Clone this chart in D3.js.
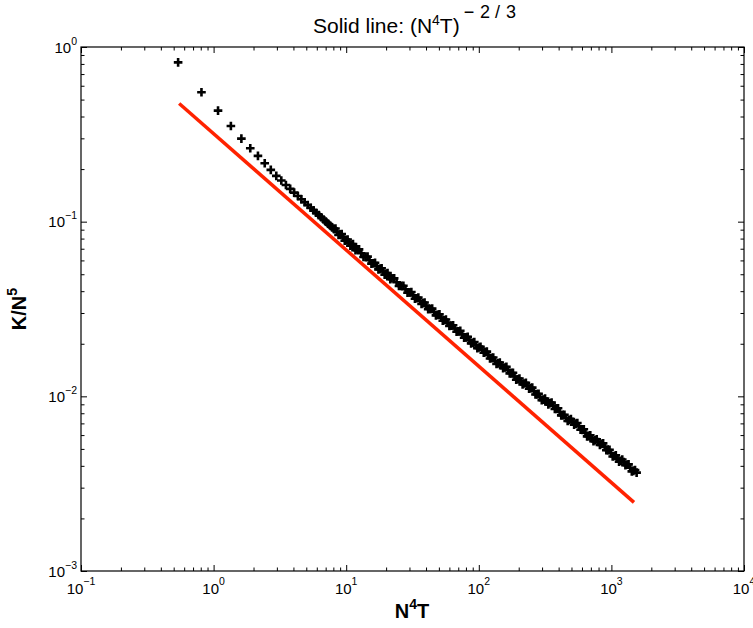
<!DOCTYPE html>
<html>
<head>
<meta charset="utf-8">
<script src="https://cdn.jsdelivr.net/npm/d3@7"></script>
<style>
  html, body { margin: 0; padding: 0; background: #fff; }
  svg { display: block; font-family: "Liberation Sans", Arial, Helvetica, sans-serif; }
</style>
</head>
<body>
<svg id="chart" width="753" height="628"></svg>
<script>
// ---- data (scatter of "+" markers) ----
const dataX = [0.54, 0.81, 1.08, 1.35, 1.62, 1.89, 2.16, 2.43, 2.70, 2.97,
  3.24, 3.51, 3.78, 4.05, 4.32, 4.59, 4.86, 5.13, 5.40, 5.67, 5.94, 6.21, 6.48, 6.75, 7.02, 7.29, 7.56, 7.83, 8.10,
  8.5, 9, 9.5, 10, 10.5, 11, 11.5, 12, 13, 14, 15, 16, 17, 18, 19,
  20, 21, 22, 24, 26, 28, 30, 32, 34, 36, 38, 40, 43, 46, 49, 52, 55, 58, 62, 66, 70, 75, 80, 85, 90, 95,
  100, 106, 112, 118, 125, 132, 140, 148, 157, 166, 176, 186, 197, 208, 220, 233, 246, 260, 275, 290,
  307, 325, 344, 364, 385, 407, 430, 455, 481, 509, 538, 569, 602, 637, 674, 712, 753, 796, 842, 890,
  941, 995, 1050, 1110, 1175, 1240, 1310, 1385, 1465, 1550,
  // scatter spread of the dense band
  8.3, 8.75, 9.25, 9.75, 10.25, 10.75, 11.25, 11.75, 12.5, 13.5, 14.5, 15.5, 16.5, 17.5, 18.5, 19.5,
  20.5, 21.5, 23, 25, 27, 29, 31, 33, 35, 37, 39, 41.5, 44.5, 47.5, 50.5, 53.5, 56.5, 60, 64, 68, 72.5, 77.5, 82.5, 87.5, 92.5, 97.5,
  103, 109, 115, 121.5, 128.5, 136, 144, 152.5, 161.5, 171, 181, 191.5, 202.5, 214, 226.5, 239.5, 253, 267.5, 282.5, 298.5,
  316, 334.5, 354, 374.5, 396, 418.5, 442.5, 468, 495, 523.5, 553.5, 585.5, 619.5, 655.5, 693, 732.5, 774.5, 819, 866, 915.5,
  968, 1022.5, 1080, 1142.5, 1207.5, 1275, 1347.5, 1425, 1507.5];
const dataY = [0.817, 0.551, 0.432, 0.353, 0.299, 0.263, 0.238, 0.216, 0.198, 0.183,
  0.1719, 0.1623, 0.1540, 0.1467, 0.1402, 0.1344, 0.1292, 0.1245, 0.1202, 0.1161, 0.1125, 0.1090, 0.1059, 0.1029, 0.1001, 0.0975, 0.0950, 0.0928, 0.0905,
  0.08767, 0.08427, 0.08127, 0.07844, 0.07592, 0.07362, 0.07148, 0.06948, 0.06596, 0.06286, 0.06018, 0.05780, 0.05568, 0.05368, 0.05187,
  0.05022, 0.04876, 0.04741, 0.04499, 0.04287, 0.04099, 0.03932, 0.03782, 0.03646, 0.03523, 0.03410, 0.03306, 0.03165, 0.03039, 0.02925, 0.02822, 0.02728, 0.02642, 0.02538, 0.02444, 0.02359, 0.02263, 0.02176, 0.02098, 0.02027, 0.01962,
  0.01902, 0.01850, 0.01790, 0.01725, 0.01655, 0.01598, 0.01545, 0.01505, 0.01462, 0.01415, 0.01360, 0.01300, 0.01252, 0.01215, 0.01185, 0.01150, 0.01115, 0.01072, 0.01028, 0.00990,
  0.00958, 0.00933, 0.00912, 0.00885, 0.00852, 0.00815, 0.00780, 0.00752, 0.00732, 0.00716, 0.00698, 0.00674, 0.00646, 0.00618, 0.00592, 0.00574, 0.00560, 0.00548, 0.00534, 0.00515,
  0.00493, 0.00472, 0.00455, 0.00440, 0.00428, 0.00420, 0.00406, 0.00390, 0.00374, 0.00366,
  0.09132, 0.08382, 0.08484, 0.07786, 0.07911, 0.07290, 0.07436, 0.06872, 0.06941, 0.06280, 0.06306, 0.05752, 0.05816, 0.05331, 0.05410, 0.04977,
  0.05073, 0.04689, 0.04736, 0.04283, 0.04298, 0.03916, 0.03953, 0.03621, 0.03675, 0.03380, 0.03442, 0.03155, 0.03180, 0.02907, 0.02946, 0.02706, 0.02752, 0.02525, 0.02553, 0.02342, 0.02369, 0.02164, 0.02190, 0.02011, 0.02045, 0.01884,
  0.01923, 0.01775, 0.01802, 0.01648, 0.01668, 0.01533, 0.01563, 0.01447, 0.01475, 0.01353, 0.01363, 0.01244, 0.01265, 0.01170, 0.01197, 0.01105, 0.01121, 0.01024, 0.01034, 0.00950,
  0.00970, 0.00900, 0.00921, 0.00847, 0.00855, 0.00778, 0.00785, 0.00723, 0.00742, 0.00689, 0.00703, 0.00644, 0.00648, 0.00590, 0.00598, 0.00553, 0.00568, 0.00527, 0.00538, 0.00491,
  0.00495, 0.00452, 0.00459, 0.00423, 0.00435, 0.00403, 0.00408, 0.00372, 0.00379];
const lineX = [0.55, 1480];
const lineY = [0.475, 0.00247];
const xTickValues = [0.1, 1, 10, 100, 1000, 10000];
const xTickExponents = ["\u22121", "0", "1", "2", "3", "4"];
const yTickValues = [0.001, 0.01, 0.1, 1];
const yTickExponents = ["\u22123", "\u22122", "\u22121", "0"];

// ---- layout ----
const svg = d3.select("#chart");
const L = 81, R = 744, T = 47, B = 571;
const x = d3.scaleLog().domain([0.1, 10000]).range([L, R]);
const y = d3.scaleLog().domain([0.001, 1]).range([B, T]);

const xMinor = [], yMinor = [];
for (let e = -1; e < 4; e++) for (let m = 2; m <= 9; m++) xMinor.push(m * Math.pow(10, e));
for (let e = -3; e < 0; e++) for (let m = 2; m <= 9; m++) yMinor.push(m * Math.pow(10, e));

const g = svg.append("g");
const majorLen = 6, minorLen = 3.5;
const fmtNone = () => "";
function addAxis(axisFn, scale, vals, len, transform) {
  const a = axisFn(scale).tickValues(vals).tickSize(len).tickSizeOuter(0).tickFormat(fmtNone);
  const ga = g.append("g").attr("transform", transform).call(a);
  ga.select(".domain").remove();
  ga.selectAll(".tick line").attr("stroke", "#000").attr("stroke-width", 1);
  return ga;
}
addAxis(d3.axisTop, x, xTickValues, majorLen, `translate(0,${B})`);
addAxis(d3.axisTop, x, xMinor, minorLen, `translate(0,${B})`);
addAxis(d3.axisBottom, x, xTickValues, majorLen, `translate(0,${T})`);
addAxis(d3.axisBottom, x, xMinor, minorLen, `translate(0,${T})`);
addAxis(d3.axisRight, y, yTickValues, majorLen, `translate(${L},0)`);
addAxis(d3.axisRight, y, yMinor, minorLen, `translate(${L},0)`);
addAxis(d3.axisLeft, y, yTickValues, majorLen, `translate(${R},0)`);
addAxis(d3.axisLeft, y, yMinor, minorLen, `translate(${R},0)`);

g.append("rect").attr("x", L).attr("y", T).attr("width", R - L).attr("height", B - T)
  .attr("fill", "none").attr("stroke", "#000").attr("stroke-width", 1.2);

xTickValues.forEach((v, i) => {
  const t = svg.append("text").attr("x", x(v)).attr("y", 594)
    .attr("text-anchor", "middle").attr("font-size", 15).attr("fill", "#000");
  t.append("tspan").text("10");
  t.append("tspan").attr("dy", -9).attr("font-size", 10.5).text(xTickExponents[i]);
});
yTickValues.forEach((v, i) => {
  const t = svg.append("text").attr("x", 77).attr("y", y(v) + 5.5)
    .attr("text-anchor", "end").attr("font-size", 15).attr("fill", "#000");
  t.append("tspan").text("10");
  t.append("tspan").attr("dy", -8).attr("font-size", 10.5).text(yTickExponents[i]);
});

// red solid line
const line = d3.line().x(d => x(d[0])).y(d => y(d[1]));
svg.append("path").datum(d3.zip(lineX, lineY)).attr("d", line)
  .attr("fill", "none").attr("stroke", "#ff2200").attr("stroke-width", 3.5);

// plus markers
const plus = "M-4.3,0H4.3M0,-4.3V4.3";
svg.append("g").selectAll("path").data(d3.zip(dataX, dataY)).join("path")
  .attr("transform", d => `translate(${x(d[0])},${y(d[1])})`)
  .attr("d", plus).attr("stroke", "#000").attr("stroke-width", 2.6).attr("fill", "none");

// title
const title = svg.append("text").attr("x", 313).attr("y", 33).attr("text-anchor", "start")
  .attr("font-size", 21).attr("fill", "#000");
title.append("tspan").text("Solid line: (N");
title.append("tspan").attr("dy", -8).attr("font-size", 14).text("4");
title.append("tspan").attr("dy", 8).text("T)");
const sup = svg.append("text").attr("y", 18).attr("font-size", 18).attr("fill", "#000").attr("text-anchor", "middle");
[["\u2212", 469], ["2", 485], ["/", 497.5], ["3", 511]].forEach(([c, cx]) => {
  sup.append("tspan").attr("x", cx).text(c);
});

// x label
const xl = svg.append("text").attr("x", 412).attr("y", 618).attr("text-anchor", "middle")
  .attr("font-size", 20).attr("font-weight", "bold").attr("fill", "#000");
xl.append("tspan").text("N");
xl.append("tspan").attr("dy", -9).attr("font-size", 14).text("4");
xl.append("tspan").attr("dy", 9).text("T");

// y label
const yl = svg.append("text").attr("transform", "translate(26,309) rotate(-90)")
  .attr("text-anchor", "middle").attr("font-size", 20).attr("font-weight", "bold").attr("fill", "#000");
yl.append("tspan").text("K/N");
yl.append("tspan").attr("dy", -9).attr("font-size", 14).text("5");
</script>
</body>
</html>
